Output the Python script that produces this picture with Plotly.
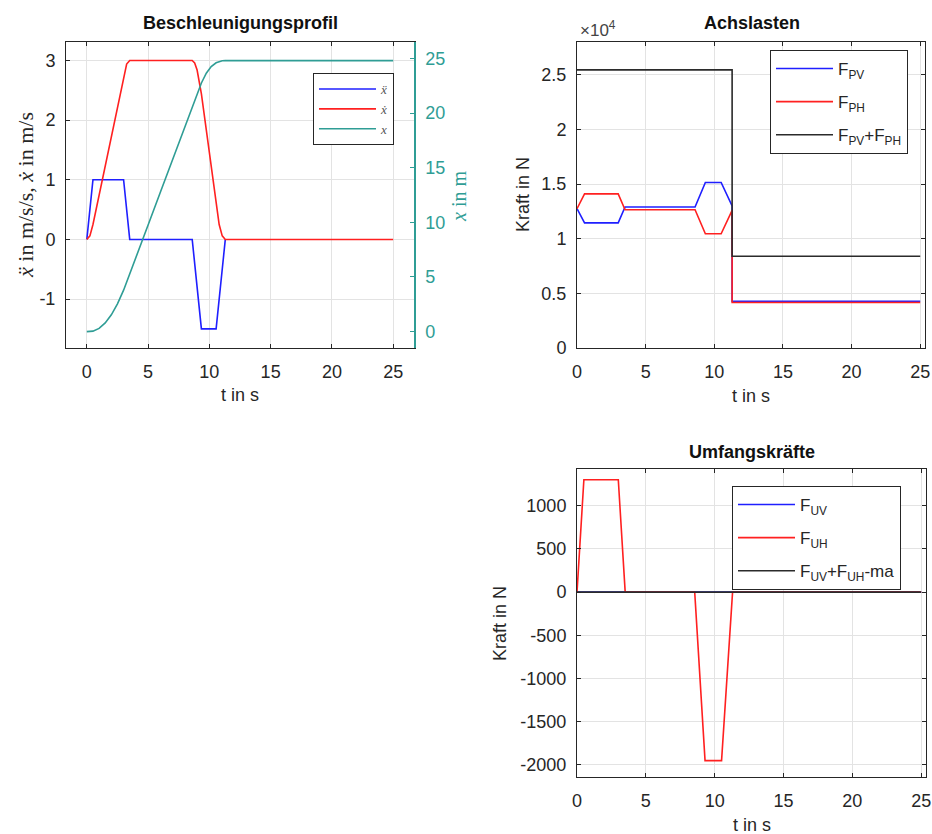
import plotly.graph_objects as go

# ---------------- data ----------------
# Beschleunigungsprofil
t_acc = [0, 0.5, 3.0, 3.5, 8.6, 9.35, 10.55, 11.3]
acc = [0, 1, 1, 0, 0, -1.5, -1.5, 0]

t_vel = [0, 0.25, 0.5, 3.0, 3.25, 3.5, 8.6, 8.8, 9.0, 9.35, 10.55, 10.8, 11.05, 11.3, 25]
vel = [0, 0.06, 0.25, 2.75, 2.94, 3.0, 3.0, 2.96, 2.84, 2.44, 0.56, 0.25, 0.06, 0, 0]

t_pos = [0, 0.5, 1, 1.5, 2, 2.5, 3, 3.5, 4, 5, 6, 7, 8, 8.6, 9, 9.35, 9.75,
         10.15, 10.55, 10.8, 11.05, 11.3, 25]
pos = [0, 0.04, 0.29, 0.79, 1.54, 2.54, 3.79, 5.25, 6.75, 9.75, 12.75, 15.75,
       18.75, 20.6, 21.8, 22.75, 23.65, 24.25, 24.6, 24.72, 24.78, 24.8, 24.8]

# Achslasten
t_ax = [0, 0.55, 3.0, 3.5, 8.6, 9.35, 10.5, 11.3, 11.3, 25]
F_PV = [12750, 11450, 11450, 12900, 12900, 15150, 15150, 13000, 4280, 4280]
F_PH = [12750, 14100, 14100, 12650, 12650, 10450, 10450, 12600, 4170, 4170]
t_sum = [0, 11.3, 11.3, 25]
F_sum = [25450, 25450, 8390, 8390]

# Umfangskraefte
t_u = [0, 0.5, 3.0, 3.5, 8.55, 9.3, 10.5, 11.3, 25]
F_UH = [0, 1300, 1300, 0, 0, -1950, -1950, 0, 0]
t_uv = [0, 25]
F_UV = [0, 0]
F_Usum = [0, 0]

# tick labels
t_ticks = [0, 5, 10, 15, 20, 25]
acc_ticks = [-1, 0, 1, 2, 3]
acc_ticktext = ["-1", "0", "1", "2", "3"]
pos_ticks = [0, 5, 10, 15, 20, 25]
ax_ticks = [0, 5000, 10000, 15000, 20000, 25000]
ax_ticktext = ["0", "0.5", "1", "1.5", "2", "2.5"]
u_ticks = [-2000, -1500, -1000, -500, 0, 500, 1000]
u_ticktext = ["-2000", "-1500", "-1000", "-500", "0", "500", "1000"]

# ---------------- style ----------------
BLUE = "#1f1fff"
RED = "#ff2020"
TEAL = "#2f9d95"
BLACK = "#2b2b2b"
AXC = "#262626"
GRID = "#e3e3e3"
FONT = "Liberation Sans"
SERIF = "Liberation Serif"
W, H = 932, 834


def px(x):
    return x / W


def py(y):
    return 1 - y / H


fig = go.Figure()

lw = 1.6
traces = [
    (t_acc, acc, BLUE, "<i>ẍ</i>", "x", "y", "legend"),
    (t_vel, vel, RED, "<i>ẋ</i>", "x", "y", "legend"),
    (t_pos, pos, TEAL, "<i>x</i>", "x", "y2", "legend"),
    (t_ax, F_PV, BLUE, "F<sub>PV</sub>", "x2", "y3", "legend2"),
    (t_ax, F_PH, RED, "F<sub>PH</sub>", "x2", "y3", "legend2"),
    (t_sum, F_sum, BLACK, "F<sub>PV</sub>+F<sub>PH</sub>", "x2", "y3", "legend2"),
    (t_uv, F_UV, BLUE, "F<sub>UV</sub>", "x3", "y4", "legend3"),
    (t_u, F_UH, RED, "F<sub>UH</sub>", "x3", "y4", "legend3"),
    (t_uv, F_Usum, BLACK, "F<sub>UV</sub>+F<sub>UH</sub>-ma", "x3", "y4", "legend3"),
]
for i, (xs, ys, c, nm, xa, ya, lg) in enumerate(traces):
    fig.add_trace(go.Scatter(x=xs, y=ys, mode="lines", line=dict(color=c, width=lw),
                             name=nm, xaxis=xa, yaxis=ya, legend=lg,
                             legendgroup=f"g{i}"))

tickfont = dict(family=FONT, size=18, color=AXC)


def xaxis(domain, rng, anchor, mirror="ticks"):
    return dict(domain=domain, range=rng, anchor=anchor, tickvals=t_ticks,
                showline=True, linecolor=AXC, linewidth=1, mirror=mirror,
                ticks="inside", ticklen=4, tickcolor=AXC, showgrid=True, gridcolor=GRID,
                zeroline=False, tickfont=tickfont, ticklabelstandoff=7, fixedrange=True,
                automargin=False)


def yaxis(domain, rng, anchor, tickvals, ticktext, mirror="ticks"):
    return dict(domain=domain, range=rng, anchor=anchor, tickvals=tickvals, ticktext=ticktext,
                showline=True, linecolor=AXC, linewidth=1, mirror=mirror,
                ticks="inside", ticklen=4, tickcolor=AXC, showgrid=True, gridcolor=GRID,
                zeroline=False, tickfont=tickfont, ticklabelstandoff=6, fixedrange=True,
                automargin=False)


top_dom = [py(348), py(42)]
bot_dom = [py(777), py(469)]

layout = dict(
    template="none",
    width=W, height=H, margin=dict(l=0, r=0, t=0, b=0, autoexpand=False),
    paper_bgcolor="white", plot_bgcolor="white",
    font=dict(family=FONT, color=AXC),
    xaxis=xaxis([px(66), px(414)], [-1.7, 26.7], "y"),
    yaxis=yaxis(top_dom, [-1.82, 3.31], "x", acc_ticks, acc_ticktext, mirror=False),
    yaxis2=dict(overlaying="y", side="right", anchor="x", range=[-1.5, 26.5],
                tickvals=pos_ticks, showline=True, linecolor=TEAL, linewidth=1.5,
                ticks="inside", ticklen=4, tickcolor=TEAL, showgrid=False, zeroline=False,
                tickfont=dict(family=FONT, size=18, color=TEAL), ticklabelstandoff=6,
                fixedrange=True, automargin=False),
    xaxis2=xaxis([px(577), px(925)], [0, 25.35], "y3"),
    yaxis3=yaxis(top_dom, [0, 28000], "x2", ax_ticks, ax_ticktext),
    xaxis3=xaxis([px(577), px(926)], [0, 25.35], "y4"),
    yaxis4=yaxis(bot_dom, [-2140, 1425], "x3", u_ticks, u_ticktext),
    showlegend=True,
    legend=dict(x=px(313), y=py(73), xanchor="left", yanchor="top", bgcolor="white",
                bordercolor=AXC, borderwidth=1, itemwidth=57,
                font=dict(family=SERIF, size=13, color="#555555"),
                tracegroupgap=0),
    legend2=dict(x=px(770), y=py(50), xanchor="left", yanchor="top", bgcolor="white",
                 bordercolor=AXC, borderwidth=1, itemwidth=57,
                 font=dict(family=FONT, size=17, color=AXC), tracegroupgap=8),
    legend3=dict(x=px(732), y=py(486), xanchor="left", yanchor="top", bgcolor="white",
                 bordercolor=AXC, borderwidth=1, itemwidth=57,
                 font=dict(family=FONT, size=17, color=AXC), tracegroupgap=8),
)
fig.update_layout(**layout)

ann = []


def text(x, y, s, size=18, bold=False, angle=0, color="#111111", family=FONT, xanchor="center"):
    ann.append(dict(x=px(x), y=py(y), xref="paper", yref="paper",
                    text=(f"<b>{s}</b>" if bold else s),
                    showarrow=False, textangle=angle, xanchor=xanchor, yanchor="middle",
                    font=dict(family=family, size=size, color=color)))


text(240, 23, "Beschleunigungsprofil", size=18, bold=True)
text(752, 23, "Achslasten", size=18, bold=True)
text(752, 452, "Umfangskräfte", size=18, bold=True)
text(240, 395, "t in s", size=18, color=AXC)
text(751, 396, "t in s", size=18, color=AXC)
text(752, 825, "t in s", size=18, color=AXC)
text(523, 195, "Kraft in N", size=18, angle=-90, color=AXC)
text(500, 623, "Kraft in N", size=18, angle=-90, color=AXC)
text(25, 195, "<i>ẍ</i> in m/s/s, <i>ẋ</i> in m/s", size=22, angle=-90, color=AXC, family=SERIF)
text(459, 197, "<i>x</i> in m", size=20, angle=-90, color=TEAL, family=SERIF)
text(578, 29, "×10<sup>4</sup>", size=17, color="#444444", xanchor="left")
fig.update_layout(annotations=ann)

fig.write_html("out.html")
